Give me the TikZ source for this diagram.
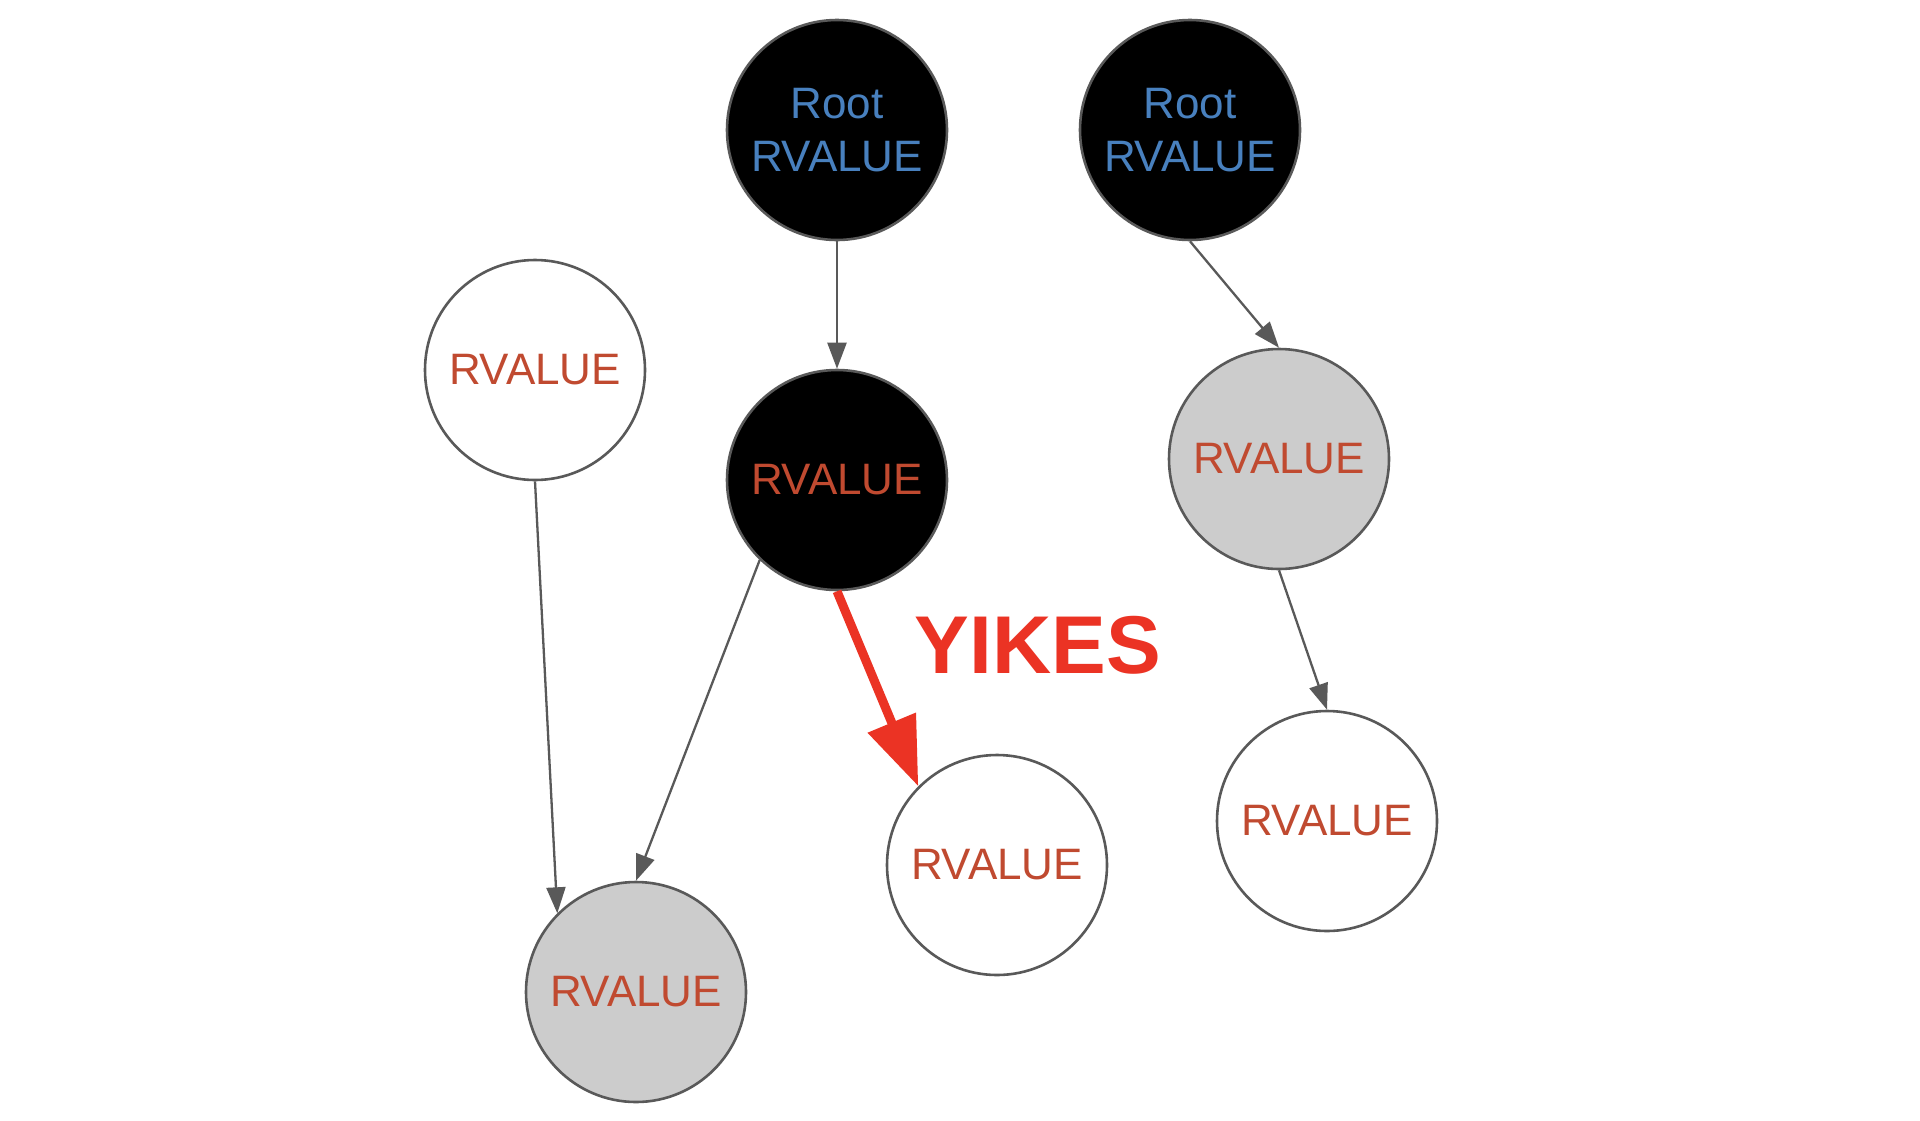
\documentclass[tikz,border=0pt]{standalone}
\usepackage{fontspec}
\setmainfont{Liberation Sans}
\usetikzlibrary{arrows.meta}
\definecolor{strokegray}{RGB}{89,89,89}
\definecolor{fillgray}{RGB}{204,204,204}
\definecolor{rootblue}{RGB}{72,128,190}
\definecolor{valred}{RGB}{192,74,48}
\definecolor{yikesred}{RGB}{235,51,36}
\tikzset{
  rnode/.style={circle, draw=strokegray, line width=2.6pt, minimum size=220pt, inner sep=0pt,
    font=\fontsize{44pt}{53pt}\selectfont, text=valred, align=center},
  blacknode/.style={rnode, fill=black},
  whitenode/.style={rnode, fill=white},
  graynode/.style={rnode, fill=fillgray},
  rootnode/.style={blacknode, text=rootblue},
  edge/.style={draw=strokegray, line width=2.3pt, -{Triangle[length=26pt,width=19pt]}},
  yikesedge/.style={draw=yikesred, line width=9pt, -{Triangle[length=69pt,width=50pt]}},
}
\begin{document}
\begin{tikzpicture}[x=1pt,y=-1pt]
\path[use as bounding box] (0,0) rectangle (1920,1120);
\node[rootnode] (r1) at (837,130) {Root\\RVALUE};
\node[rootnode] (r2) at (1190,130) {Root\\RVALUE};
\node[whitenode] (lw) at (535,370) {RVALUE};
\node[blacknode] (bm) at (837,480) {RVALUE};
\node[graynode] (gr) at (1279,459) {RVALUE};
\node[whitenode] (wbr) at (1327,821) {RVALUE};
\node[whitenode] (wm) at (997,865) {RVALUE};
\node[graynode] (gb) at (636,992) {RVALUE};
\node[text=yikesred, font=\fontsize{82pt}{82pt}\selectfont\bfseries] (yk) at (1038,645) {YIKES};
\draw[edge] (r1.south) -- (bm.north);
\draw[edge] (r2.south) -- (gr.north);
\draw[edge] (gr.south) -- (wbr.north);
\draw[edge] (lw.south) -- (gb.135);
\draw[edge] (bm.226) -- (gb.north);
\draw[yikesedge] (bm.south) -- (wm.135);
\end{tikzpicture}
\end{document}
